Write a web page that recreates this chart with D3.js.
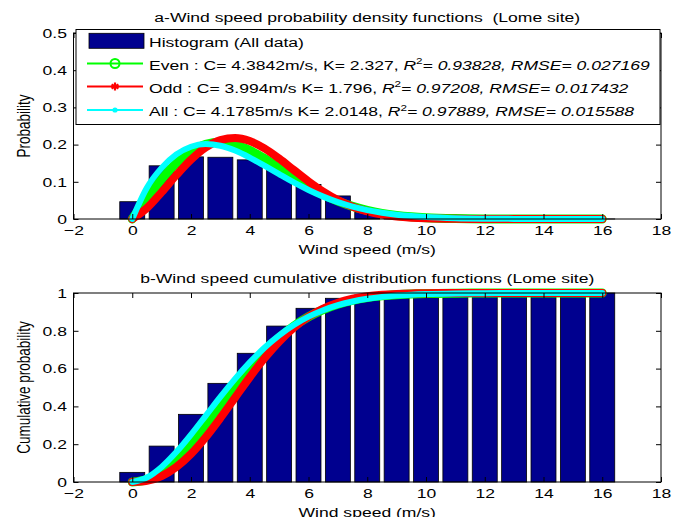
<!DOCTYPE html>
<meta charset="utf-8">
<head>
  <style>
    body { margin: 0; background: #fff; }
    svg text { font-family: "Liberation Sans", Arial, sans-serif; font-size: 13.5px; white-space: pre; }
  </style>
</head>
<body>
  <svg width="686" height="517"></svg>
  <script src="https://d3js.org/d3.v7.min.js"></script>
  <script>
    // histogram bins (wind speed classes, m/s)
    var bins = [0, 1, 2, 3, 4, 5, 6, 7, 8, 9, 10, 11, 12, 13, 14, 15, 16];
    var pdfHist = [0.0465, 0.143, 0.167, 0.166, 0.159, 0.132, 0.093, 0.062, 0.018, 0.006, 0.003, 0.001, 0.0005, 0.0003, 0.0002, 0.0001, 0.0001];
    var cdfHist = [0.051, 0.190, 0.358, 0.522, 0.681, 0.825, 0.919, 0.972, 0.990, 0.996, 0.999, 1, 1, 1, 1, 1, 1];

    // fitted curves
    var speeds = [0, 0.5, 1, 1.5, 2, 2.5, 3, 3.5, 4, 4.5, 5, 5.5, 6, 6.5, 7, 7.5, 8, 8.5, 9, 9.5, 10, 11, 12, 13, 14, 15, 16];
    var evenPdf = [0, 0.0551, 0.1068, 0.1502, 0.1820, 0.2007, 0.2063, 0.2001, 0.1846, 0.1628, 0.1377, 0.1119, 0.0876, 0.0661, 0.0482, 0.0339, 0.0230, 0.0151, 0.0096, 0.0059, 0.0035, 0.0011, 0.0003, 0.0001, 0, 0, 0];
    var oddPdf  = [0, 0.0296, 0.0723, 0.1178, 0.1595, 0.1922, 0.2121, 0.2178, 0.2095, 0.1899, 0.1625, 0.1317, 0.1010, 0.0735, 0.0506, 0.0331, 0.0205, 0.0120, 0.0067, 0.0035, 0.0017, 0.0004, 0.0001, 0, 0, 0, 0];
    var allPdf  = [0, 0.0840, 0.1374, 0.1736, 0.1943, 0.2013, 0.1969, 0.1839, 0.1652, 0.1432, 0.1204, 0.0982, 0.0779, 0.0602, 0.0454, 0.0334, 0.0240, 0.0169, 0.0116, 0.0078, 0.0052, 0.0021, 0.0008, 0.0003, 0.0001, 0, 0];
    var evenCdf = [0, 0.0138, 0.0545, 0.1192, 0.2027, 0.2990, 0.4013, 0.5033, 0.5998, 0.6868, 0.7620, 0.8244, 0.8742, 0.9124, 0.9408, 0.9612, 0.9753, 0.9847, 0.9908, 0.9947, 0.9970, 0.9991, 0.9998, 1, 1, 1, 1];
    var oddCdf  = [0, 0.0064, 0.0316, 0.0791, 0.1487, 0.2371, 0.3387, 0.4469, 0.5542, 0.6544, 0.7428, 0.8163, 0.8745, 0.9179, 0.9487, 0.9694, 0.9826, 0.9906, 0.9952, 0.9976, 0.9989, 0.9998, 1, 1, 1, 1, 1];
    var allCdf  = [0, 0.0237, 0.0798, 0.1582, 0.2508, 0.3502, 0.4502, 0.5457, 0.6331, 0.7103, 0.7762, 0.8307, 0.8747, 0.9091, 0.9354, 0.9550, 0.9692, 0.9794, 0.9865, 0.9913, 0.9945, 0.9979, 0.9993, 0.9998, 0.9999, 1, 1];

    var xTicks = [-2, 0, 2, 4, 6, 8, 10, 12, 14, 16, 18];
    var yTicksTop = [0, 0.1, 0.2, 0.3, 0.4, 0.5];
    var yTicksBot = [0, 0.2, 0.4, 0.6, 0.8, 1];

    var legendMain = ["Even : C= 4.3842m/s, K= 2.327, ", "Odd : C= 3.994m/s K= 1.796, ", "All : C= 4.1785m/s K= 2.0148, "];
    var legendR2 = ["0.93828", "0.97208", "0.97889"];
    var legendRmse = ["0.027169", "0.017432", "0.015588"];

    var colors = ["#00ff00", "#ff0000", "#00ffff"];
    var widths = [9, 8, 6];
    var barColor = "#00008f";
    var sx = 1.3; // picture is stretched horizontally

    var svg = d3.select("svg");
    var x = d3.scaleLinear().domain([-2, 18]).range([73.5, 661]);
    var yTop = d3.scaleLinear().domain([0, 0.5]).range([219, 33]);
    var yBot = d3.scaleLinear().domain([0, 1]).range([482, 293]);

    function label(txt, px, py, rotate) {
      return svg.append("text")
        .attr("text-anchor", "middle")
        .attr("transform", "translate(" + px + "," + py + ") scale(" + sx + ",1)" + (rotate ? " rotate(-90)" : ""))
        .text(txt);
    }

    function panel(y, hist, series, yTicks, title, ylab, titleY, xlabY) {
      var g = svg.append("g");
      var bw = 0.425;

      g.selectAll("rect.bar")
        .data(bins)
        .enter().append("rect")
          .attr("class", "bar")
          .attr("x", function(d) { return x(d - bw); })
          .attr("width", x(bw) - x(-bw))
          .attr("y", function(d, i) { return y(hist[i]); })
          .attr("height", function(d, i) { return y(0) - y(hist[i]); })
          .attr("fill", barColor)
          .attr("stroke", "#000")
          .attr("stroke-width", 0.8);

      var line = d3.line()
        .x(function(d, i) { return x(speeds[i]); })
        .y(function(d) { return y(d); })
        .curve(d3.curveMonotoneX);

      series.forEach(function(s, k) {
        g.append("path")
          .attr("d", line(s))
          .attr("fill", "none")
          .attr("stroke", colors[k])
          .attr("stroke-width", widths[k])
          .attr("stroke-linecap", "round")
          .attr("stroke-linejoin", "round");
      });

      var x0 = x.range()[0], x1 = x.range()[1];
      var yr = y.range();

      var ax = g.append("g").attr("transform", "translate(0," + yr[0] + ")")
        .call(d3.axisBottom(x).tickValues(xTicks).tickSizeInner(-5).tickSizeOuter(0).tickPadding(6.4));
      g.append("g").attr("transform", "translate(0," + yr[1] + ")")
        .call(d3.axisTop(x).tickValues(xTicks).tickSizeInner(-5).tickSizeOuter(0).tickFormat(""));
      var ay = g.append("g").attr("transform", "translate(" + x0 + ",0)")
        .call(d3.axisLeft(y).tickValues(yTicks).tickSizeInner(-5).tickSizeOuter(0).tickPadding(6.5).tickFormat(function(d) { return String(d); }));
      g.append("g").attr("transform", "translate(" + x1 + ",0)")
        .call(d3.axisRight(y).tickValues(yTicks).tickSizeInner(-5).tickSizeOuter(0).tickFormat(""));

      g.selectAll(".domain").remove();
      g.selectAll(".tick line").attr("stroke", "#000");
      g.selectAll(".tick text").attr("font-size", 13.5).attr("font-family", null).attr("fill", "#000");
      ax.selectAll("text").attr("transform", "scale(" + sx + ",1)");
      ay.selectAll("text").attr("x", -6.5 / sx).attr("transform", "scale(" + sx + ",1)");

      g.append("rect")
        .attr("x", x0).attr("y", yr[1])
        .attr("width", x1 - x0).attr("height", yr[0] - yr[1])
        .attr("fill", "none").attr("stroke", "#000").attr("stroke-width", 1);

      label(title, (x0 + x1) / 2, titleY);
      label("Wind speed (m/s)", (x0 + x1) / 2, xlabY);
      label(ylab, 0, (yr[0] + yr[1]) / 2, true).attr("transform",
        "translate(29.5," + (yr[0] + yr[1]) / 2 + ") scale(" + sx + ",1) rotate(-90)");
    }

    panel(yTop, pdfHist, [evenPdf, oddPdf, allPdf], yTicksTop,
      "a-Wind speed probability density functions  (Lome site)", "Probability", 22, 253.5);
    panel(yBot, cdfHist, [evenCdf, oddCdf, allCdf], yTicksBot,
      "b-Wind speed cumulative distribution functions (Lome site)", "Cumulative probability", 282.5, 516.5);

    // legend of the top panel
    var lg = svg.append("g");
    lg.append("rect").attr("x", 76).attr("y", 29.5).attr("width", 584).attr("height", 95)
      .attr("fill", "#fff").attr("stroke", "#000").attr("stroke-width", 1);
    lg.append("rect").attr("x", 89).attr("y", 33.3).attr("width", 55).attr("height", 15)
      .attr("fill", barColor).attr("stroke", "#000").attr("stroke-width", 0.8);
    lg.append("text").attr("transform", "translate(149,46.5) scale(" + sx + ",1)").text("Histogram (All data)");

    var rowY = [63.5, 86.5, 110];
    legendMain.forEach(function(t, i) {
      var ry = rowY[i];
      lg.append("line").attr("x1", 87).attr("x2", 143).attr("y1", ry).attr("y2", ry)
        .attr("stroke", colors[i]).attr("stroke-width", 2.2);
      if (i === 0) {
        lg.append("circle").attr("cx", 115).attr("cy", ry).attr("r", 4.5)
          .attr("fill", "none").attr("stroke", colors[i]).attr("stroke-width", 2);
      } else if (i === 1) {
        lg.append("path").attr("transform", "translate(115," + ry + ")")
          .attr("d", d3.symbol(d3.symbolAsterisk, 45)())
          .attr("fill", "none").attr("stroke", colors[i]).attr("stroke-width", 2.2);
      } else {
        lg.append("circle").attr("cx", 115).attr("cy", ry).attr("r", 2.6).attr("fill", colors[i]);
      }
      var tx = lg.append("text").attr("transform", "translate(149," + (ry + 6) + ") scale(" + sx + ",1)");
      tx.append("tspan").text(t);
      tx.append("tspan").attr("font-style", "italic").text("R");
      tx.append("tspan").attr("font-size", 9).attr("dy", -5.5).text("2");
      tx.append("tspan").attr("font-style", "italic").attr("dy", 5.5)
        .text("= " + legendR2[i] + ", RMSE= " + legendRmse[i]);
    });
  </script>
</body>
</html>
